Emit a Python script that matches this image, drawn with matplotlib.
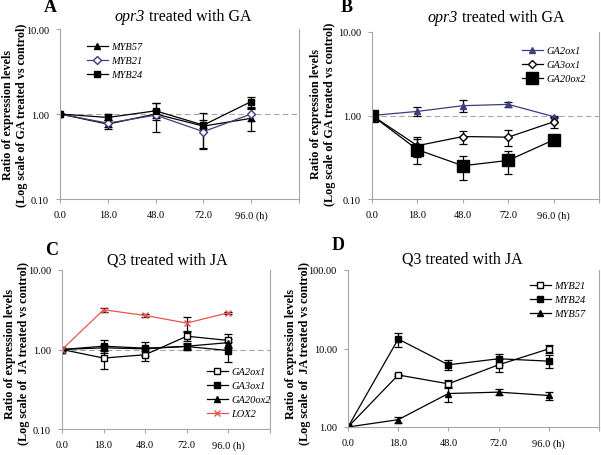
import numpy as np
import matplotlib
matplotlib.use("Agg")
import matplotlib.pyplot as plt

plt.rcParams['font.family'] = ['Liberation Serif', 'DejaVu Serif']

# time points (category axis)
times = ["0.0", "18.0", "48.0", "72.0", "96.0 (h)"]

# A: opr3 treated with GA
a_myb57 = [1.0, 0.76, 1.00, 0.72, 0.89]
a_myb57_err = [0, 0.10, 0.10, 0.32, 0.26]
a_myb21 = [1.0, 0.78, 0.97, 0.62, 1.00]
a_myb21_err = [0, 0.07, 0.36, 0.23, 0.18]
a_myb24 = [1.0, 0.91, 1.09, 0.74, 1.40]
a_myb24_err = [0, 0.10, 0.25, 0.05, 0.18]

# B: opr3 treated with GA
b_ga2ox1 = [1.0, 1.12, 1.31, 1.36, 0.97]
b_ga2ox1_err = [0, 0.13, 0.22, 0.10, 0.03]
b_ga3ox1 = [1.0, 0.435, 0.56, 0.55, 0.84]
b_ga3ox1_err = [0, 0.12, 0.10, 0.12, 0.13]
b_ga20ox2 = [1.0, 0.39, 0.25, 0.29, 0.51]
b_ga20ox2_err = [0, 0.13, 0.08, 0.09, 0.05]

# C: Q3 treated with JA
c_ga2ox1 = [1.0, 0.78, 0.86, 1.47, 1.30]
c_ga2ox1_err = [0, 0.21, 0.15, 0.20, 0.27]
c_ga3ox1 = [1.0, 1.10, 1.04, 1.09, 0.97]
c_ga3ox1_err = [0, 0.20, 0.20, 0.08, 0.27]
c_ga20ox2 = [1.0, 1.05, 1.02, 1.10, 1.22]
c_ga20ox2_err = [0, 0.10, 0.06, 0.10, 0.15]
c_lox2 = [1.0, 3.16, 2.68, 2.15, 2.90]
c_lox2_err = [0, 0.20, 0.08, 0.45, 0.10]

# D: Q3 treated with JA
d_myb21 = [1.0, 4.6, 3.55, 6.2, 9.9]
d_myb21_err = [0, 0.2, 0.4, 1.2, 1.2]
d_myb24 = [1.0, 13.2, 6.2, 7.4, 6.9]
d_myb24_err = [0, 2.7, 0.9, 1.2, 1.3]
d_myb57 = [1.0, 1.24, 2.67, 2.78, 2.52]
d_myb57_err = [0, 0.12, 0.6, 0.25, 0.3]

navy = '#3d3d80'
red = '#e8554e'
grey = '#a6a6a6'

fig = plt.figure(figsize=(6.01, 4.56), dpi=100)
W, H = 601.0, 456.0


def fx(px):
    return px / W


def fy(py):
    return 1 - py / H


def make_axes(left, right, top, bottom):
    return fig.add_axes([fx(left), fy(bottom), (right - left) / W, (bottom - top) / H])


def style_axes(ax, ylim, yticks, dashed=True):
    ax.set_yscale('log')
    ax.set_ylim(*ylim)
    ax.set_yticks(yticks)
    ax.set_yticklabels(["%.2f" % v for v in yticks], fontsize=7.5)
    ax.yaxis.set_minor_locator(matplotlib.ticker.NullLocator())
    ax.set_xlim(0, 5)
    ax.set_xticks(range(6))
    ax.set_xticklabels(times + [""], fontsize=7.5)
    ax.tick_params(direction='out', length=3, color=grey, pad=5)
    for s in ['left', 'bottom', 'right']:
        ax.spines[s].set_color(grey)
        ax.spines[s].set_linewidth(0.8)
    ax.spines['top'].set_visible(False)
    if dashed:
        ax.axhline(1.0, color=grey, ls=(0, (5, 3)), lw=0.8, zorder=0)


def labels(ylabel, ylab_xy, letter_xy, letter):
    fig.text(fx(ylab_xy[0]), fy(ylab_xy[1]), ylabel, rotation=90, ha='center', va='center',
             fontsize=8.7, fontweight='bold', linespacing=1.25)
    fig.text(fx(letter_xy[0]), fy(letter_xy[1]), letter, fontsize=13, fontweight='bold',
             ha='center', va='center')


def title_opr3(ax, x0, y0):
    t1 = fig.text(fx(x0), fy(y0), "opr3", style='italic', fontsize=11.5, ha='left', va='center')
    ax.annotate(" treated with GA", xy=(1, 0.5), xycoords=t1, fontsize=11.5,
                ha='left', va='center', annotation_clip=False)


def series(ax, y, err, color='black', marker='s', face=None, ms=5, label=None):
    x = np.arange(len(y))
    c = ax.errorbar(x, y, yerr=err, color=color, marker=marker, ms=ms,
                    mfc=face if face else color, mec=color, lw=0.9, elinewidth=0.9,
                    capsize=3, capthick=0.9, ecolor='black')
    c[0].set_label(label)
    return c[0]


def legend(ax, handles, x0, y0):
    ax.legend(handles=handles, frameon=False, prop={'style': 'italic', 'size': 7.5},
              handlelength=2.0, handletextpad=0.3, labelspacing=0.45, borderpad=0,
              borderaxespad=0, loc='upper left', bbox_to_anchor=(fx(x0), fy(y0)),
              bbox_transform=fig.transFigure)


ylab_ga = "Ratio of expression levels\n(Log scale of GA treated vs control)"
ylab_ja = "Ratio of expression levels\n(Log scale of  JA treated vs control)"

# Panel A
ax = make_axes(60, 299, 30, 200)
h = [series(ax, a_myb57, a_myb57_err, marker='^', label='MYB57'),
     series(ax, a_myb21, a_myb21_err, color=navy, marker='D', face='white', ms=4, label='MYB21'),
     series(ax, a_myb24, a_myb24_err, marker='s', label='MYB24')]
style_axes(ax, (0.1, 10), [0.1, 1, 10])
legend(ax, h, 87, 43)
labels(ylab_ga, (15, 115), (50, 8), "A")
title_opr3(ax, 115, 17)

# Panel B
ax = make_axes(372, 599, 33, 200)
h = [series(ax, b_ga2ox1, b_ga2ox1_err, color=navy, marker='^', label='GA2ox1'),
     series(ax, b_ga3ox1, b_ga3ox1_err, marker='D', face='white', ms=4, label='GA3ox1'),
     series(ax, b_ga20ox2, b_ga20ox2_err, marker='s', ms=8, label='GA20ox2')]
style_axes(ax, (0.1, 10), [0.1, 1, 10])
legend(ax, h, 522, 47)
labels(ylab_ga, (323, 114), (347, 8), "B")
title_opr3(ax, 428, 18)

# Panel C
ax = make_axes(62, 270, 271, 430)
h = [series(ax, c_ga2ox1, c_ga2ox1_err, marker='s', face='white', label='GA2ox1'),
     series(ax, c_ga3ox1, c_ga3ox1_err, marker='s', label='GA3ox1'),
     series(ax, c_ga20ox2, c_ga20ox2_err, marker='^', label='GA20ox2'),
     series(ax, c_lox2, c_lox2_err, color=red, marker='x', ms=5, label='LOX2')]
style_axes(ax, (0.1, 10), [0.1, 1, 10])
legend(ax, h, 207, 368)
labels(ylab_ja, (17, 354), (52, 251), "C")
fig.text(fx(167), fy(261), "Q3 treated with JA", fontsize=11.5, ha='center', va='center')

# Panel D
ax = make_axes(348, 599, 271, 428)
h = [series(ax, d_myb21, d_myb21_err, marker='s', face='white', label='MYB21'),
     series(ax, d_myb24, d_myb24_err, marker='s', label='MYB24'),
     series(ax, d_myb57, d_myb57_err, marker='^', label='MYB57')]
style_axes(ax, (1, 100), [1, 10, 100], dashed=False)
legend(ax, h, 530, 282)
labels(ylab_ja, (298, 354), (338, 246), "D")
fig.text(fx(462), fy(260), "Q3 treated with JA", fontsize=11.5, ha='center', va='center')

fig.savefig("out.png", dpi=100)
